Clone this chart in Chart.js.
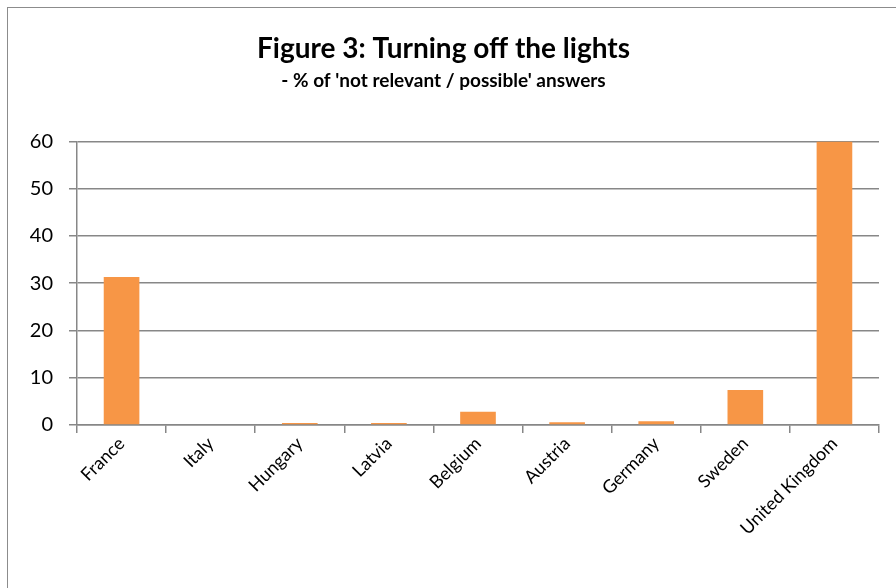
<!DOCTYPE html>
<html>
<head>
<meta charset="utf-8">
<script src="https://cdn.jsdelivr.net/npm/chart.js@4/dist/chart.umd.min.js"></script>
<style>
    html, body { margin: 0; padding: 0; background: #fff; overflow: hidden; }
    #wrap { position: relative; width: 896px; height: 588px; }
    #frame { position: absolute; left: 7px; top: 7px; width: 1000px; height: 700px;
             border: 1.5px solid #8c8c8c; box-sizing: border-box; }
    canvas { position: absolute; left: 0; top: 0; }
</style>
</head>
<body>
<div id="wrap">
    <div id="frame"></div>
    <canvas id="chart" width="896" height="588"></canvas>
</div>
<script>
const countries = ['France', 'Italy', 'Hungary', 'Latvia', 'Belgium', 'Austria', 'Germany', 'Sweden', 'United Kingdom'];
const notRelevant = [31.3, 0, 0.4, 0.4, 2.8, 0.6, 0.8, 7.4, 60];
const yTicks = [0, 10, 20, 30, 40, 50, 60];

const font = "Lato, 'Open Sans', sans-serif";
const gridGrey = '#878787';

const ctx = document.getElementById('chart').getContext('2d');
new Chart(ctx, {
    type: 'bar',
    data: {
        labels: countries,
        datasets: [{
            label: '% not relevant / possible',
            data: notRelevant,
            backgroundColor: '#F79646',
            barPercentage: 0.4,
            categoryPercentage: 1
        }]
    },
    options: {
        responsive: false,
        animation: false,
        layout: { padding: { left: 8, right: 17, top: 24, bottom: 0 } },
        plugins: {
            legend: { display: false },
            tooltip: { enabled: false },
            title: {
                display: true,
                text: 'Figure 3: Turning off the lights',
                color: '#000',
                font: { family: font, size: 28, weight: 'bold' },
                padding: { top: 8, bottom: 4 }
            },
            subtitle: {
                display: true,
                text: "- % of 'not relevant / possible' answers",
                color: '#000',
                font: { family: font, size: 19, weight: 'bold' },
                padding: { top: 0, bottom: 49 }
            }
        },
        scales: {
            x: {
                grid: {
                    offset: true,
                    drawOnChartArea: false,
                    drawTicks: true,
                    tickLength: 8,
                    color: gridGrey,
                    lineWidth: 1.5
                },
                border: { color: gridGrey, width: 1.5 },
                ticks: {
                    color: '#000',
                    font: { family: font, size: 18 },
                    minRotation: 45,
                    maxRotation: 45,
                    padding: 0
                },
                afterFit: scale => { scale.height = 163; }
            },
            y: {
                min: 0,
                max: 60,
                afterBuildTicks: scale => { scale.ticks = yTicks.map(v => ({ value: v })); },
                grid: {
                    color: gridGrey,
                    lineWidth: 1.5,
                    tickLength: 8
                },
                border: { color: gridGrey, width: 1.5 },
                ticks: {
                    color: '#000',
                    font: { family: font, size: 20 },
                    padding: 16
                },
                afterFit: scale => { scale.width = 69; }
            }
        }
    }
});
</script>
</body>
</html>
